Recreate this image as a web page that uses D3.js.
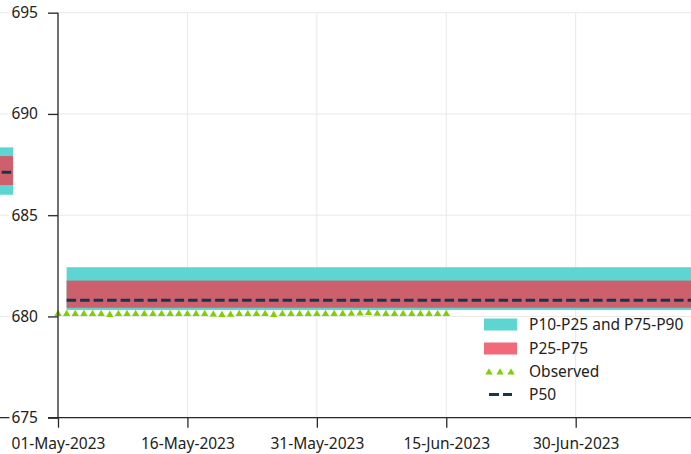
<!DOCTYPE html>
<html>
<head>
<meta charset="utf-8">
<script src="https://cdn.jsdelivr.net/npm/d3@7"></script>
<style>
  html, body { margin: 0; padding: 0; background: #fff; }
  svg { display: block; font-family: "Noto Sans", "Open Sans", sans-serif; }
</style>
</head>
<body>
<svg id="chart" width="691" height="454"></svg>
<script>
// Forecast percentile bands: one entry per forecast period
const bandStart = ["2023-04-01T00:00", "2023-05-02T00:00"];
const bandEnd   = ["2023-04-25T19:00", "2023-07-31T00:00"];
const p10 = [686.01, 680.32];
const p25 = [686.49, 680.43];
const p50 = [687.12, 680.80];
const p75 = [687.92, 681.77];
const p90 = [688.35, 682.43];

// Observed daily levels, 01-May-2023 to 15-Jun-2023
const obsStart = "2023-05-01";
const observed = [
  680.12, 680.12, 680.12, 680.12, 680.12, 680.12, 680.08, 680.12, 680.12, 680.12,
  680.12, 680.12, 680.12, 680.12, 680.12, 680.12, 680.12, 680.12, 680.10, 680.08,
  680.09, 680.12, 680.12, 680.12, 680.12, 680.08, 680.12, 680.12, 680.12, 680.12,
  680.12, 680.12, 680.12, 680.13, 680.14, 680.15, 680.17, 680.14, 680.12, 680.12,
  680.12, 680.12, 680.12, 680.12, 680.12, 680.12
];

// Axis ticks
const xTickLabels = ["01-May-2023", "16-May-2023", "31-May-2023", "15-Jun-2023", "30-Jun-2023"];
const yTicks = [675, 680, 685, 690, 695];

const legendLabels = ["P10-P25 and P75-P90", "P25-P75", "Observed", "P50"];

const W = 691, H = 454;
const axisX = 58, plotTop = 12.7, plotBottom = 417.7;
const fontSize = "15.5px";
const parseTime = d3.timeParse("%Y-%m-%dT%H:%M");
const parseDay = d3.timeParse("%d-%b-%Y");

const xTicks = xTickLabels.map(parseDay);
const x = d3.scaleTime()
  .domain([xTicks[0], xTicks[xTicks.length - 1]])
  .range([axisX, 575.7]);
const y = d3.scaleLinear().domain([675, 695]).range([plotBottom, plotTop]);

const svg = d3.select("#chart");

const cyan = "#5dd5d0", redBand = "#ce606e", redLegend = "#f26a7a",
      green = "#7ed001", navy = "#173748", gridC = "#e8e8e8", axisC = "#2a2a2a";

// Gridlines
const grid = svg.append("g");
grid.selectAll("line.h").data(yTicks).join("line").attr("class", "h")
  .attr("x1", 0).attr("x2", W)
  .attr("y1", d => y(d)).attr("y2", d => y(d))
  .attr("stroke", gridC).attr("stroke-width", 1);
grid.selectAll("line.v").data(xTicks).join("line").attr("class", "v")
  .attr("x1", d => x(d)).attr("x2", d => x(d))
  .attr("y1", plotTop).attr("y2", plotBottom)
  .attr("stroke", gridC).attr("stroke-width", 1);

// Bands
const bands = bandStart.map((s, i) => ({
  x0: parseTime(s), x1: parseTime(bandEnd[i]),
  p10: p10[i], p25: p25[i], p50: p50[i], p75: p75[i], p90: p90[i]
}));
const bg = svg.append("g");
bg.selectAll("rect.outer").data(bands).join("rect").attr("class", "outer")
  .attr("x", d => x(d.x0)).attr("width", d => x(d.x1) - x(d.x0))
  .attr("y", d => y(d.p90)).attr("height", d => y(d.p10) - y(d.p90))
  .attr("fill", cyan);
bg.selectAll("rect.inner").data(bands).join("rect").attr("class", "inner")
  .attr("x", d => x(d.x0)).attr("width", d => x(d.x1) - x(d.x0))
  .attr("y", d => y(d.p75)).attr("height", d => y(d.p25) - y(d.p75))
  .attr("fill", redBand);
bg.selectAll("line.p50").data(bands).join("line").attr("class", "p50")
  .attr("x1", d => x(d.x0)).attr("x2", d => x(d.x1))
  .attr("y1", d => y(d.p50)).attr("y2", d => y(d.p50))
  .attr("stroke", navy).attr("stroke-width", 3)
  .attr("stroke-dasharray", "9.5,4");

// Observed markers
const day0 = d3.timeParse("%Y-%m-%d")(obsStart);
const obs = observed.map((v, i) => ({ date: d3.timeDay.offset(day0, i), v }));
const tri = d3.symbol().type(d3.symbolTriangle).size(23);
svg.append("g").selectAll("path").data(obs).join("path")
  .attr("d", tri)
  .attr("transform", d => `translate(${x(d.date)},${y(d.v)})`)
  .attr("fill", green);

// Axes
const fmt = d3.timeFormat("%d-%b-%Y");
const xAxis = d3.axisBottom(x).tickValues(xTicks).tickFormat(fmt)
  .tickSize(10).tickPadding(10);
const gx = svg.append("g").attr("transform", `translate(0,${plotBottom})`).call(xAxis);
gx.select(".domain").remove();
gx.append("line").attr("x1", 0).attr("x2", W).attr("stroke", axisC).attr("stroke-width", 1.3);
gx.selectAll(".tick line").attr("stroke", axisC).attr("stroke-width", 1.3);
gx.selectAll(".tick text").attr("fill", "#222").style("font-size", fontSize)
  .style("font-family", '"Noto Sans", sans-serif');

const yAxis = d3.axisLeft(y).tickValues(yTicks).tickSize(10).tickPadding(10);
const gy = svg.append("g").attr("transform", `translate(${axisX},0)`).call(yAxis);
gy.select(".domain").remove();
gy.append("line").attr("y1", plotTop).attr("y2", plotBottom).attr("stroke", axisC).attr("stroke-width", 1.3);
gy.selectAll(".tick line").attr("stroke", axisC).attr("stroke-width", 1.3);
gy.selectAll(".tick text").attr("fill", "#222").style("font-size", fontSize)
  .style("font-family", '"Noto Sans", sans-serif');
// white backing behind the y labels so lines pass beneath them
gy.selectAll(".tick").each(function () {
  const t = d3.select(this).select("text");
  const b = t.node().getBBox();
  d3.select(this).insert("rect", "text")
    .attr("x", b.x - 2).attr("y", b.y + 2)
    .attr("width", -10 - (b.x - 2)).attr("height", b.height - 4)
    .attr("fill", "#fff");
});

// Legend
const lg = svg.append("g").attr("transform", "translate(484,0)");
const rowY = [324.5, 348.5, 371.5, 394.5];
lg.append("rect").attr("x", 0).attr("y", rowY[0] - 6).attr("width", 33).attr("height", 12).attr("fill", cyan);
lg.append("rect").attr("x", 0).attr("y", rowY[1] - 6).attr("width", 33).attr("height", 12).attr("fill", redLegend);
[5, 16, 27].forEach(dx => {
  lg.append("path").attr("d", tri).attr("transform", `translate(${dx},${rowY[2] + 1})`).attr("fill", green);
});
lg.append("line").attr("x1", 5).attr("x2", 28).attr("y1", rowY[3]).attr("y2", rowY[3])
  .attr("stroke", navy).attr("stroke-width", 3).attr("stroke-dasharray", "10,4");
lg.selectAll("text").data(legendLabels).join("text")
  .attr("x", 45).attr("y", (d, i) => rowY[i])
  .attr("dy", "0.35em")
  .attr("fill", "#222")
  .style("font-size", fontSize)
  .text(d => d);
</script>
</body>
</html>
